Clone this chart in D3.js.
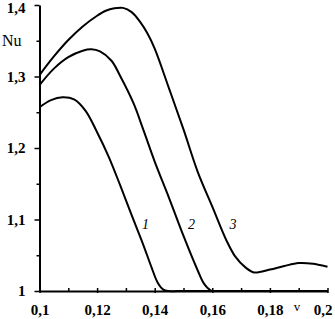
<!DOCTYPE html>
<html>
<head>
<meta charset="utf-8">
<script src="https://cdn.jsdelivr.net/npm/d3@7"></script>
<style>
  body { margin: 0; background: #fff; }
  svg { display: block; }
  text { font-family: "Liberation Serif", "Times New Roman", serif; fill: #000; }
</style>
</head>
<body>
<div id="chart"></div>
<script>
// values
const curve1X = [0.1, 0.104, 0.108, 0.112, 0.116, 0.12, 0.124, 0.128, 0.132, 0.136, 0.139, 0.141, 0.143, 0.145, 0.15, 0.16, 0.2];
const curve1Y = [1.257, 1.267, 1.271, 1.268, 1.252, 1.222, 1.188, 1.148, 1.106, 1.065, 1.032, 1.012, 1.002, 1.0, 1.0, 1.0, 1.0];

const curve2X = [0.1, 0.105, 0.11, 0.115, 0.118, 0.121, 0.125, 0.1281, 0.1326, 0.1361, 0.14, 0.145, 0.15, 0.1549, 0.157, 0.1594, 0.161, 0.165, 0.175, 0.2];
const curve2Y = [1.288, 1.311, 1.327, 1.336, 1.338, 1.335, 1.322, 1.3, 1.263, 1.225, 1.181, 1.13, 1.077, 1.029, 1.011, 1.001, 1.0, 1.0, 1.0, 1.0];

const curve3X = [0.1, 0.105, 0.11, 0.115, 0.12, 0.123, 0.126, 0.129, 0.132, 0.135, 0.1375, 0.14, 0.145, 0.15, 0.155, 0.16, 0.165, 0.168, 0.1715, 0.1745, 0.18, 0.185, 0.19, 0.195, 0.2];
const curve3Y = [1.302, 1.328, 1.351, 1.37, 1.385, 1.392, 1.3955, 1.396, 1.39, 1.376, 1.36, 1.339, 1.283, 1.226, 1.166, 1.118, 1.07, 1.048, 1.033, 1.026, 1.03, 1.035, 1.039, 1.038, 1.034];

const curveNames = ['1', '2', '3'];
const labelX = [0.1368, 0.1528, 0.1672];
const labelY = [1.087, 1.087, 1.087];

const xTicks = [0.1, 0.12, 0.14, 0.16, 0.18, 0.2];
const xMinor = [0.11, 0.13, 0.15, 0.17, 0.19];
const yTicks = [1, 1.1, 1.2, 1.3, 1.4];
const yMinor = [1.05, 1.15, 1.25, 1.35];

const width = 335;
const height = 319;
const margin = { top: 5, right: 7.5, bottom: 28, left: 39.5 };

const svg = d3.select('#chart').append('svg')
  .attr('width', width)
  .attr('height', height);

const x = d3.scaleLinear()
  .domain([0.1, 0.2])
  .range([margin.left, width - margin.right]);

const y = d3.scaleLinear()
  .domain([1, 1.4])
  .range([height - margin.bottom, margin.top]);

const comma = d => String(+d.toFixed(2)).replace('.', ',');

// x axis
const xAxis = svg.append('g')
  .attr('transform', `translate(0,${y(1)})`)
  .call(d3.axisBottom(x).tickValues(xTicks).tickFormat(comma).tickSizeOuter(0).tickSizeInner(3).tickPadding(10));
xAxis.selectAll('.tick line').attr('y1', -3).attr('y2', 2).attr('stroke-width', 1.5);
xAxis.select('.domain').attr('stroke-width', 2);
xAxis.selectAll('.tick text')
  .attr('font-size', 15)
  .attr('font-weight', 'bold')
  .attr('font-family', '"Liberation Serif", serif')
  .attr('dx', d => (d === 0.2 ? -5 : 0));

svg.append('g')
  .attr('transform', `translate(0,${y(1)})`)
  .call(d3.axisBottom(x).tickValues(xMinor).tickFormat('').tickSizeOuter(0).tickSizeInner(-3))
  .call(g => g.select('.domain').remove())
  .selectAll('.tick line').attr('stroke-width', 1.5);

// y axis
const yAxis = svg.append('g')
  .attr('transform', `translate(${x(0.1)},0)`)
  .call(d3.axisLeft(y).tickValues(yTicks).tickFormat(comma).tickSizeOuter(0).tickSizeInner(5).tickPadding(9));
yAxis.selectAll('.tick line').attr('stroke-width', 1.5);
yAxis.select('.domain').attr('stroke-width', 2);
yAxis.selectAll('.tick text')
  .attr('font-size', 15)
  .attr('font-weight', 'bold')
  .attr('font-family', '"Liberation Serif", serif')
  .attr('dy', d => (d === 1.4 ? '0.5em' : '0.32em'));

svg.append('g')
  .attr('transform', `translate(${x(0.1)},0)`)
  .call(d3.axisLeft(y).tickValues(yMinor).tickFormat('').tickSizeOuter(0).tickSizeInner(3))
  .call(g => g.select('.domain').remove())
  .selectAll('.tick line').attr('stroke-width', 1.5);

// curves
const series = [
  curve1X.map((v, i) => [v, curve1Y[i]]),
  curve2X.map((v, i) => [v, curve2Y[i]]),
  curve3X.map((v, i) => [v, curve3Y[i]]),
];

const line = d3.line()
  .x(d => x(d[0]))
  .y(d => y(d[1]))
  .curve(d3.curveCatmullRom.alpha(0.5));

svg.selectAll('path.curve')
  .data(series)
  .enter()
  .append('path')
  .attr('class', 'curve')
  .attr('fill', 'none')
  .attr('stroke', '#000')
  .attr('stroke-width', 2)
  .attr('stroke-linejoin', 'round')
  .attr('d', line);

// curve numbers
svg.selectAll('text.num')
  .data(curveNames)
  .enter()
  .append('text')
  .attr('class', 'num')
  .attr('x', (d, i) => x(labelX[i]))
  .attr('y', (d, i) => y(labelY[i]))
  .attr('text-anchor', 'middle')
  .attr('font-size', 14)
  .attr('font-style', 'italic')
  .text(d => d);

// axis titles
svg.append('text')
  .attr('x', 2)
  .attr('y', 46)
  .attr('font-size', 16)
  .text('Nu');

svg.append('text')
  .attr('x', 297)
  .attr('y', 311)
  .attr('text-anchor', 'middle')
  .attr('font-size', 13)
  .text('v');
</script>
</body>
</html>
